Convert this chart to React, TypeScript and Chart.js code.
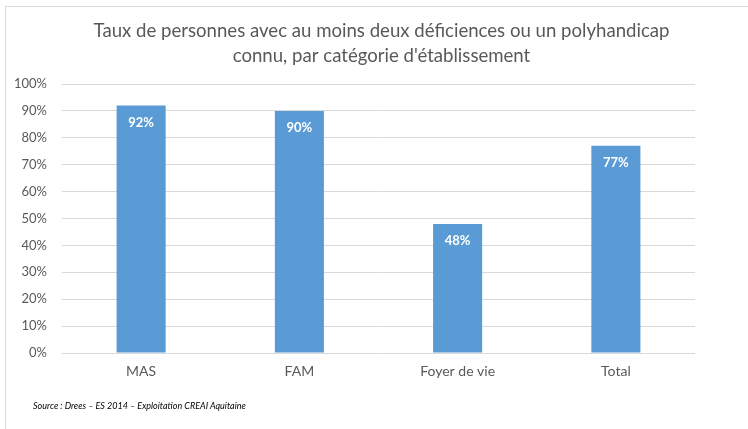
import React, { useEffect, useRef } from "react";
import { Chart, registerables } from "chart.js";

Chart.register(...registerables);

const categories = ["MAS", "FAM", "Foyer de vie", "Total"];
const values = [92, 90, 48, 77];
const valueLabels = ["92%", "90%", "48%", "77%"];
const titleLines = [
  "Taux de personnes avec au moins deux déficiences ou un polyhandicap",
  "connu, par catégorie d'établissement",
];
const sourceText = "Source : Drees \u2013 ES 2014 \u2013 Exploitation CREAI Aquitaine";

const labelPlugin = {
  id: "valueLabels",
  afterDatasetsDraw(chart: any) {
    const ctx = chart.ctx;
    const meta = chart.getDatasetMeta(0);
    ctx.save();
    ctx.fillStyle = "#ffffff";
    ctx.font = "bold 13px Lato";
    ctx.textAlign = "center";
    ctx.textBaseline = "middle";
    meta.data.forEach((bar: any, i: number) => {
      ctx.fillText(valueLabels[i], bar.x, bar.y + 17);
    });
    ctx.restore();
  },
};

export default function App() {
  const ref = useRef<HTMLCanvasElement | null>(null);
  useEffect(() => {
    if (!ref.current) return;
    const chart = new Chart(ref.current, {
      type: "bar",
      data: {
        labels: categories,
        datasets: [
          {
            data: values,
            backgroundColor: "#5b9bd5",
            barPercentage: 0.31,
            categoryPercentage: 1,
          },
        ],
      },
      options: {
        animation: false,
        responsive: false,
        maintainAspectRatio: false,
        layout: { padding: { left: 15, right: 0, top: 0, bottom: 41 } },
        plugins: {
          legend: { display: false },
          tooltip: { enabled: false },
          title: {
            display: true,
            text: titleLines,
            color: "#595959",
            font: { family: "Lato", size: 18.6, weight: "normal", lineHeight: 25 / 18.6 },
            padding: { top: 18.5, bottom: 15.5 },
          },
        },
        scales: {
          x: {
            grid: { display: false, drawTicks: false },
            border: { display: false },
            ticks: { color: "#595959", font: { family: "Lato", size: 14 }, padding: 10 },
            afterFit(scale: any) {
              scale.height = 35;
            },
          },
          y: {
            min: 0,
            max: 100,
            grid: { color: "#d9d9d9", drawTicks: false },
            border: { display: false },
            ticks: {
              stepSize: 10,
              color: "#595959",
              font: { family: "Lato", size: 13 },
              padding: 15,
              callback: (v: any) => v + "%",
            },
            afterFit(scale: any) {
              scale.width = 47;
            },
          },
          yRight: {
            type: "linear",
            position: "right",
            display: true,
            grid: { display: false, drawTicks: false },
            border: { display: false },
            ticks: { display: false },
            afterFit(scale: any) {
              scale.width = 53;
            },
          },
        },
      },
      plugins: [labelPlugin],
    });
    return () => chart.destroy();
  }, []);

  return (
    <div style={{ position: "fixed", left: 0, top: 0, width: 748, height: 429, background: "#fff" }}>
      <div
        style={{
          position: "absolute",
          left: 5,
          top: 6,
          right: 0,
          bottom: 0,
          borderLeft: "1px solid #d9d9d9",
          borderTop: "1px solid #d9d9d9",
        }}
      />
      <canvas ref={ref} width={748} height={429} style={{ position: "absolute", left: 0, top: 0 }} />
      <div
        style={{
          position: "absolute",
          left: 33,
          top: 400,
          fontFamily: "Lato",
          fontStyle: "italic",
          fontSize: 9,
          color: "#000",
          whiteSpace: "nowrap",
        }}
      >
        {sourceText}
      </div>
    </div>
  );
}
